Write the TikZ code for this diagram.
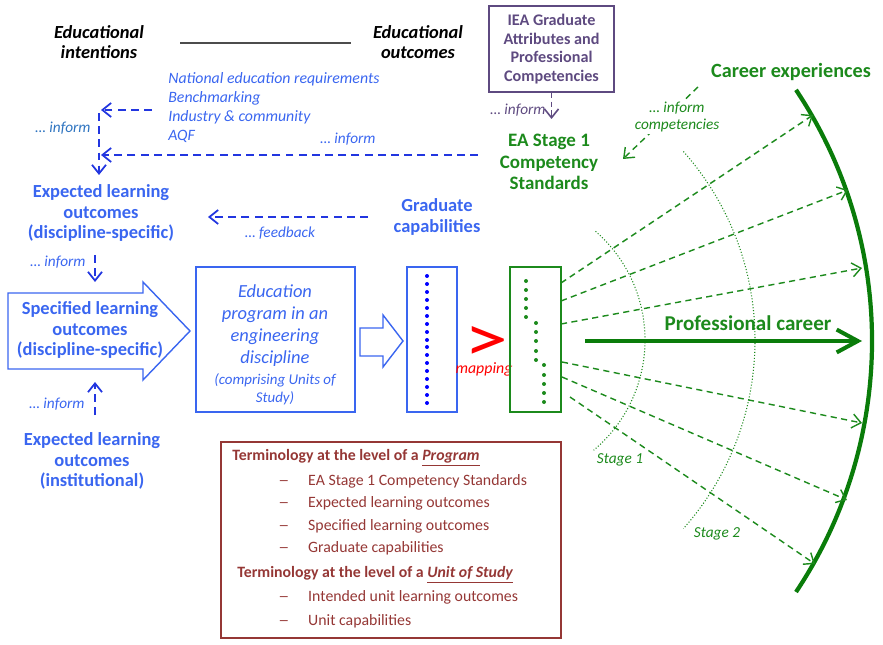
\documentclass[tikz,border=0pt]{standalone}
\usepackage{fontspec}
\usepackage{graphicx}
\setmainfont{Carlito}
\usetikzlibrary{arrows.meta}
\definecolor{eduBlue}{HTML}{3A66F0}
\definecolor{arrBlue}{HTML}{2236E0}
\definecolor{infBlue}{HTML}{2E74C0}
\definecolor{eduGreen}{HTML}{1C8A1C}
\definecolor{arcGreen}{HTML}{0A7C0A}
\definecolor{iePurple}{HTML}{5E4A80}
\definecolor{termRed}{HTML}{953735}
\def\termdash{\makebox[17pt][l]{\scalebox{1.4}[1]{--}}}
\tikzset{
  lbl/.style={inner sep=0pt, align=center},
  hdr/.style={lbl, font=\fontsize{10.5}{11.4}\selectfont\bfseries\itshape},
  bluebig/.style={lbl, text=eduBlue, font=\fontsize{10.5}{11.9}\selectfont\bfseries},
  greenbig/.style={lbl, text=eduGreen, font=\fontsize{10.8}{12.4}\selectfont\bfseries},
  note/.style={lbl, font=\fontsize{8.7}{10}\selectfont\itshape},
  barb/.style={-{Straight Barb[length=5pt,width=8pt]}},
  bluedash/.style={draw=arrBlue, line width=1pt, dash pattern=on 4.5pt off 3pt, barb},
  greendash/.style={draw=eduGreen, line width=0.8pt, dash pattern=on 3.5pt off 2.5pt, barb},
  purpdash/.style={draw=iePurple, line width=0.9pt, dash pattern=on 3pt off 2pt, barb},
  blockarrow/.style={draw=eduBlue, line width=0.8pt},
  framebox/.style={draw, line width=0.85pt, inner sep=0pt},
  stagearc/.style={draw=eduGreen, line width=0.6pt, dash pattern=on 0.6pt off 1.1pt},
  termhead/.style={anchor=west, inner sep=0pt, text=termRed, font=\fontsize{9}{10}\selectfont\bfseries},
  termitem/.style={anchor=west, inner sep=0pt, text=termRed, font=\fontsize{9}{10}\selectfont},
}

\begin{document}
\begin{tikzpicture}[x=0.2mm,y=-0.2mm]
			%%%%% START %%%%%
			\useasboundingbox (0,0) rectangle (883,645);
			
			\node[hdr] (intent) at (99,42) {Educational\\intentions};
			\node[hdr] (outcome) at (418,42) {Educational\\outcomes};
			\coordinate (hl) at (180,43);
			\coordinate (hr) at (351,43);
			\draw[line width=1pt, black!70] (hl) -- (hr);
			
			% IEA box and EA stage 1
			\node[framebox, draw=iePurple, text=iePurple, align=center, font=\fontsize{9.2}{10.5}\selectfont\bfseries, minimum width=25mm, minimum height=17.2mm] (iea) at (551.5,49) {IEA Graduate\\Attributes and\\Professional\\Competencies};
			\node[greenbig] (eastage) at (549,162) {EA Stage 1\\Competency\\Standards};
			\coordinate (ieatip) at (551.5,119);
			\draw[purpdash] (iea.south) -- (ieatip);
			\node[note, text=iePurple] (ieainf) at (518,110) {\ldots\ inform};
			
			\node[greenbig, font=\fontsize{11.5}{13}\selectfont\bfseries] (career) at (791,72) {Career experiences};
			\coordinate (compfrom) at (698,87);
			\coordinate (compto) at (623,159);
			\draw[greendash] (compfrom) -- (compto);
			\node[note, text=eduGreen, fill=white, inner sep=1pt] (infcomp) at (677,117) {\ldots\ inform\\competencies};
			
			% national requirements and the blue arrows
			\node[anchor=west, inner sep=0pt, align=left, text=eduBlue, font=\fontsize{9}{10.8}\selectfont\itshape] (natreq) at (168,108) {National education requirements\\Benchmarking\\Industry \& community\\AQF};
			\coordinate (b1s) at (152,110);
			\coordinate (b1e) at (101,110);
			\draw[bluedash] (b1s) -- (b1e);
			\coordinate (vtop) at (99,113);
			\coordinate (vtip) at (99,175);
			\draw[bluedash] (vtop) -- (vtip);
			\coordinate (b2s) at (478,155);
			\coordinate (b2e) at (101,155);
			\draw[bluedash] (b2s) -- (b2e);
			\node[note, text=infBlue] (inf1) at (63,128) {\ldots\ inform};
			\node[note, text=eduBlue] (inf2) at (348,139) {\ldots\ inform};
			
			\node[bluebig] (elodisc) at (101,213) {Expected learning\\outcomes\\(discipline-specific)};
			\node[bluebig] (gradcap) at (437,217) {Graduate\\capabilities};
			\coordinate (fbs) at (368,217);
			\coordinate (fbe) at (208,217);
			\draw[bluedash] (fbs) -- (fbe);
			\node[note, text=eduBlue] (fb) at (280,233) {\ldots\ feedback};
			
			\coordinate (d1s) at (95,255);
			\coordinate (d1e) at (95,282);
			\draw[bluedash] (d1s) -- (d1e);
			\node[note, text=eduBlue] (inf3) at (58,262) {\ldots\ inform};
			
			% specified outcomes block arrow
			\draw[blockarrow] (8,293) -- (143,293) -- (143,282) -- (190,331) -- (143,380) -- (143,369) -- (8,369) -- cycle;
			\node[bluebig] (slo) at (90,330) {Specified learning\\outcomes\\(discipline-specific)};
			
			\coordinate (u1s) at (95,415);
			\coordinate (u1e) at (95,382);
			\draw[bluedash] (u1s) -- (u1e);
			\node[note, text=eduBlue] (inf4) at (57,404) {\ldots\ inform};
			\node[bluebig] (eloinst) at (92,461) {Expected learning\\outcomes\\(institutional)};
			
			% education program
			\node[framebox, draw=eduBlue, minimum width=31.8mm, minimum height=29mm] (prog) at (275.5,339.5) {};
			\node[lbl, text=eduBlue, font=\fontsize{10.5}{12.5}\selectfont\itshape] (progtxt) at (275,326) {Education\\program in an\\engineering\\discipline};
			\node[lbl, text=eduBlue, font=\fontsize{8.5}{10.2}\selectfont\itshape] (progsub) at (275,389) {(comprising Units of\\Study)};
			\draw[blockarrow] (360,328) -- (383,328) -- (383,315) -- (403,341) -- (383,367) -- (383,356) -- (360,356) -- cycle;
			
			% unit outcomes
			\node[framebox, draw=eduBlue, minimum width=10mm, minimum height=29mm] (ulo) at (432,339.5) {};
			\fill[blue] (427,276) circle (2) (427,284) circle (2) (427,292) circle (2) (427,300) circle (2)
			            (427,308) circle (2) (427,316) circle (2) (427,324) circle (2) (427,332) circle (2)
			            (427,340) circle (2) (427,347) circle (2) (427,355) circle (2) (427,363) circle (2)
			            (427,371) circle (2) (427,379) circle (2) (427,387) circle (2) (427,395) circle (2)
			            (427,403) circle (2);
			
			\node[lbl, text=red, anchor=base, font=\fontsize{50}{50}\selectfont] (mapsym) at (486,361) {\scalebox{1}[0.76]{>}};
			\node[lbl, text=red, font=\fontsize{9}{10}\selectfont\itshape] (maplbl) at (484,369) {mapping};
			
			% mapped to competencies
			\node[framebox, draw=eduGreen, minimum width=10.2mm, minimum height=29mm] (glo) at (535.5,339.5) {};
			\fill[eduGreen] (526,281) circle (2) (526,290) circle (2) (526,299) circle (2) (526,308) circle (2) (526,317) circle (2)
			               (536,323) circle (2) (536,332) circle (2) (536,341) circle (2) (536,351) circle (2) (536,360) circle (2)
			               (544,365) circle (2) (544,375) circle (2) (544,384) circle (2) (544,393) circle (2) (544,402) circle (2);
			
			% career
			\draw[stagearc] (595.5,231.3) arc[start angle=-49, end angle=50, radius=144];
			\draw[stagearc] (683.4,151.5) arc[start angle=-41.6, end angle=41.6, radius=284];
			\node[note, text=eduGreen] (stage1) at (620,460) {Stage 1};
			\node[note, text=eduGreen] (stage2) at (717,534) {Stage 2};
			\draw[arcGreen, line width=2.4pt] (796,89.9) arc[start angle=-33.7, end angle=33.7, radius=452.5];
			
			\coordinate (s1) at (561,283);
			\coordinate (s2) at (561,301);
			\coordinate (s3) at (561,324);
			\coordinate (s4) at (562,362);
			\coordinate (s5) at (562,377);
			\coordinate (s6) at (570,397);
			\coordinate (e1) at (813,115);
			\coordinate (e2) at (848,190);
			\coordinate (e3) at (862,268);
			\coordinate (e4) at (862,423);
			\coordinate (e5) at (847,500);
			\coordinate (e6) at (815,564);
			\draw[greendash] (s1) -- (e1);
			\draw[greendash] (s2) -- (e2);
			\draw[greendash] (s3) -- (e3);
			\draw[greendash] (s4) -- (e4);
			\draw[greendash] (s5) -- (e5);
			\draw[greendash] (s6) -- (e6);
			
			\coordinate (pcs) at (585,341);
			\coordinate (pce) at (862,341);
			\draw[arcGreen, line width=2.3pt, -{Straight Barb[length=12pt,width=13pt]}] (pcs) -- (pce);
			\node[greenbig, font=\fontsize{12}{13}\selectfont\bfseries] (profcar) at (748,323) {Professional career};
			
			% terminology
			\node[framebox, draw=termRed, minimum width=68mm, minimum height=39.2mm] (termbox) at (391,540) {};
			\node[termhead] (th1) at (232,458) {Terminology at the level of a \underline{\itshape Program}};
			\node[termitem] (ti1) at (278,481) {\termdash EA Stage 1 Competency Standards};
			\node[termitem] (ti2) at (278,503) {\termdash Expected learning outcomes};
			\node[termitem] (ti3) at (278,526) {\termdash Specified learning outcomes};
			\node[termitem] (ti4) at (278,548) {\termdash Graduate capabilities};
			\node[termhead] (th2) at (237,575) {Terminology at the level of a \underline{\itshape Unit of Study}};
			\node[termitem] (ti5) at (278,597) {\termdash Intended unit learning outcomes};
			\node[termitem] (ti6) at (278,621) {\termdash Unit capabilities};
			
			%%%%% END %%%%%
\end{tikzpicture}
\end{document}
